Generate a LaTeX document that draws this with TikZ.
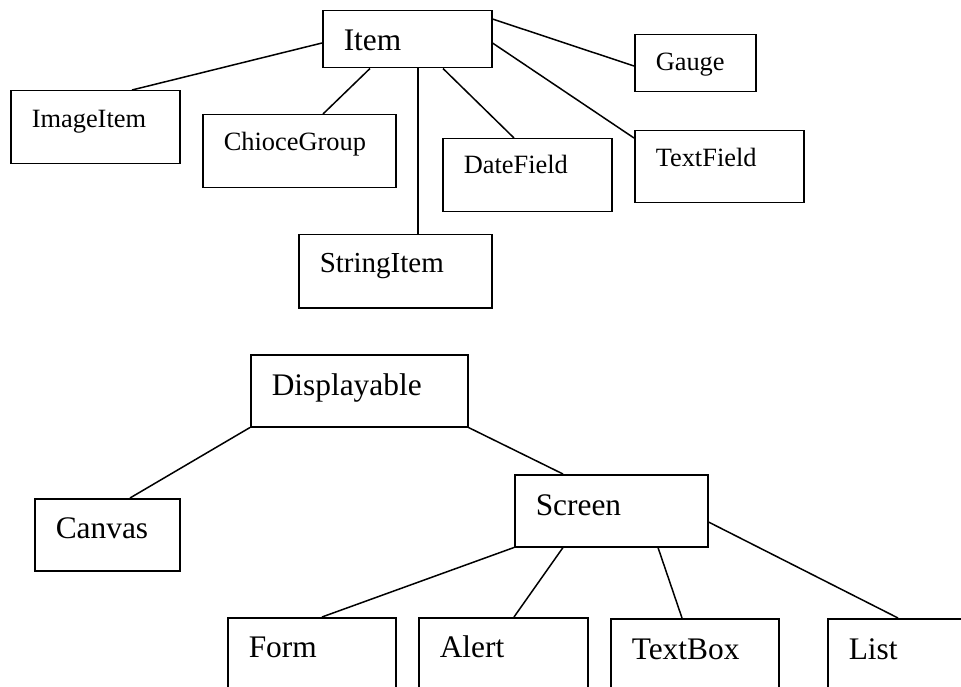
\documentclass[tikz,border=0pt]{standalone}
\usepackage{fontspec}
\setmainfont{Liberation Serif}
\begin{document}
\begin{tikzpicture}[x=1pt,y=-1pt,
  cls/.style={draw=black, line width=1.5pt, anchor=north west, inner xsep=21pt,
    inner ysep=0pt, align=left, text=black},
  fsmall/.style={font=\fontsize{26.4}{30}\selectfont},
  fmid/.style={font=\fontsize{29}{33}\selectfont},
  fbig/.style={font=\fontsize{31.4}{36}\selectfont},
  link/.style={draw=black, line width=1.5pt}]
\useasboundingbox (0,0) rectangle (961,687);
\clip (0,0) rectangle (961,687);

% Item hierarchy
\node[cls, fbig,   text width=127pt, text height=40pt, text depth=17pt] (item)        at (322,10)  {Item};
\node[cls, fsmall, text width=127pt, text height=37pt, text depth=36pt] (imageitem)   at (10,90)   {ImageItem};
\node[cls, fsmall, text width=151pt, text height=36pt, text depth=37pt] (choicegroup) at (202,114) {ChioceGroup};
\node[cls, fsmall, text width=127pt, text height=35pt, text depth=38pt] (datefield)   at (442,138) {DateField};
\node[cls, fmid,   text width=151pt, text height=38pt, text depth=35pt] (stringitem)  at (298,234) {StringItem};
\node[cls, fsmall, text width=79pt,  text height=36pt, text depth=21pt] (gauge)       at (634,34)  {Gauge};
\node[cls, fsmall, text width=127pt, text height=36pt, text depth=36pt] (textfield)   at (634,130) {TextField};

\draw[link] ([yshift=-33pt]item.north west)  -- ([xshift=122pt]imageitem.north west);
\draw[link] ([xshift=48pt]item.south west)   -- ([xshift=121pt]choicegroup.north west);
\draw[link] ([xshift=96pt]item.south west)   -- ([xshift=120pt]stringitem.north west);
\draw[link] ([xshift=121pt]item.south west)  -- ([xshift=72pt]datefield.north west);
\draw[link] ([yshift=-9pt]item.north east)   -- ([yshift=-32pt]gauge.north west);
\draw[link] ([yshift=-33pt]item.north east)  -- ([yshift=-8pt]textfield.north west);

% Displayable hierarchy
\node[cls, fbig, text width=175pt, text height=41pt, text depth=31pt] (displayable) at (250,354) {Displayable};
\node[cls, fbig, text width=103pt, text height=40pt, text depth=32pt] (canvas)      at (34,498)  {Canvas};
\node[cls, fbig, text width=151pt, text height=41pt, text depth=31pt] (screen)      at (514,474) {Screen};
\node[cls, fbig, text width=126pt, text height=40pt, text depth=45pt] (form)        at (227,617) {Form};
\node[cls, fbig, text width=127pt, text height=40pt, text depth=45pt] (alert)       at (418,617) {Alert};
\node[cls, fbig, text width=126pt, text height=41pt, text depth=45pt] (textbox)     at (610,618) {TextBox};
\node[cls, fbig, text width=138pt, text height=41pt, text depth=45pt] (list)        at (827,618) {List};

\draw[link] (displayable.south west)         -- ([xshift=96pt]canvas.north west);
\draw[link] (displayable.south east)         -- ([xshift=49pt]screen.north west);
\draw[link] (screen.south west)              -- ([xshift=95pt]form.north west);
\draw[link] ([xshift=49pt]screen.south west) -- ([xshift=96pt]alert.north west);
\draw[link] ([xshift=144pt]screen.south west) -- ([xshift=72pt]textbox.north west);
\draw[link] ([yshift=-48pt]screen.north east) -- ([xshift=71pt]list.north west);
\end{tikzpicture}
\end{document}
